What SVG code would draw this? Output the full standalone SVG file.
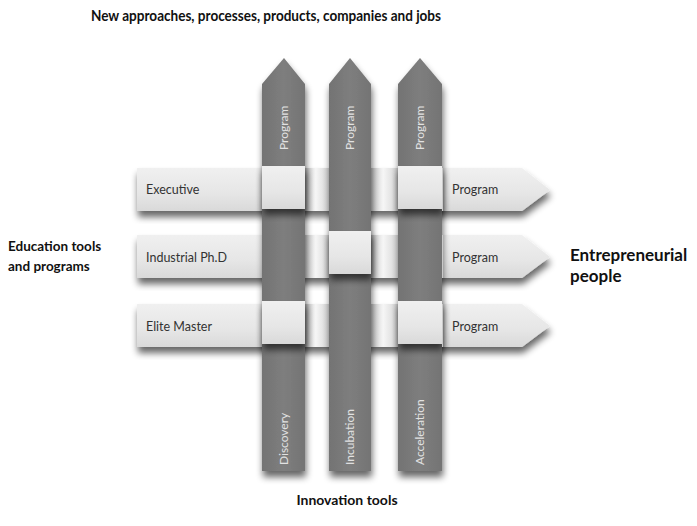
<svg xmlns="http://www.w3.org/2000/svg" width="697" height="526" viewBox="0 0 697 526">
<style>
.lbl{font-family:Lato,"Liberation Sans",sans-serif;font-size:12.5px;fill:#333}
.vl{font-family:Lato,"Liberation Sans",sans-serif;font-size:12px;fill:#e2e2e2}
.hd{font-family:Lato,"Liberation Sans",sans-serif;font-weight:bold;fill:#111}
.hbar{fill:url(#hg)}
.vbar{fill:url(#vg)}
.gap{fill:url(#cg)}
.sq{fill:url(#hg)}
</style>
<defs>
<linearGradient id="hg" x1="0" y1="0" x2="0" y2="1">
<stop offset="0" stop-color="#f0f0f0"/><stop offset="0.6" stop-color="#e6e6e6"/><stop offset="1" stop-color="#d9d9d9"/>
</linearGradient>
<linearGradient id="vg" x1="0" y1="0" x2="1" y2="0">
<stop offset="0" stop-color="#737373"/><stop offset="0.5" stop-color="#7e7e7e"/><stop offset="1" stop-color="#747474"/>
</linearGradient>
<linearGradient id="cg" x1="0" y1="0" x2="1" y2="0">
<stop offset="0" stop-color="#c4c4c4"/><stop offset="0.45" stop-color="#f6f6f6"/><stop offset="1" stop-color="#d4d4d4"/>
</linearGradient>
<filter id="sh" x="-20%" y="-20%" width="140%" height="150%">
<feGaussianBlur in="SourceAlpha" stdDeviation="3.5"/>
<feOffset dx="1" dy="6" result="b"/>
<feComponentTransfer><feFuncA type="linear" slope="0.6"/></feComponentTransfer>
<feMerge><feMergeNode/><feMergeNode in="SourceGraphic"/></feMerge>
</filter>
</defs>
<rect width="697" height="526" fill="#fff"/>

<!-- horizontal bars (education tools) -->
<g id="row-executive" filter="url(#sh)">
<polygon class="hbar" points="137,168 522,168 550,190 522,211 137,211"/>
</g>
<g id="row-industrial" filter="url(#sh)">
<polygon class="hbar" points="137,235 522,235 550,257 522,278 137,278"/>
</g>
<g id="row-elite" filter="url(#sh)">
<polygon class="hbar" points="137,304 522,304 550,326 522,347 137,347"/>
</g>
<g id="gaps">
<rect class="gap" x="305" y="168" width="24" height="43"/>
<rect class="gap" x="371" y="168" width="27" height="43"/>
<rect class="gap" x="305" y="235" width="24" height="43"/>
<rect class="gap" x="371" y="235" width="27" height="43"/>
<rect class="gap" x="305" y="304" width="24" height="43"/>
<rect class="gap" x="371" y="304" width="27" height="43"/>
</g>

<!-- vertical bars (innovation tools) -->
<g id="col-discovery" filter="url(#sh)">
<polygon class="vbar" points="262,84 284,58 305,84 305,471 262,471"/>
</g>
<g id="col-incubation" filter="url(#sh)">
<polygon class="vbar" points="329,84 350,58 371,84 371,471 329,471"/>
</g>
<g id="col-acceleration" filter="url(#sh)">
<polygon class="vbar" points="398,84 420,58 442,84 442,471 398,471"/>
</g>

<!-- over-crossings -->
<g id="crossings" filter="url(#sh)">
<rect class="sq" x="262" y="166" width="43" height="43"/>
<rect class="sq" x="398" y="166" width="44" height="43"/>
<rect class="sq" x="329" y="231" width="42" height="43"/>
<rect class="sq" x="262" y="301" width="43" height="43"/>
<rect class="sq" x="398" y="301" width="44" height="43"/>
</g>
<g id="edges" stroke="#c9c9c9" stroke-width="1">
<line x1="442.5" y1="168" x2="442.5" y2="211"/>
<line x1="442.5" y1="235" x2="442.5" y2="278"/>
<line x1="442.5" y1="304" x2="442.5" y2="347"/>
</g>

<!-- labels -->
<g id="labels">
<text class="lbl" x="146" y="194">Executive</text>
<text class="lbl" x="146" y="262">Industrial Ph.D</text>
<text class="lbl" x="146" y="331">Elite Master</text>
<text class="lbl" x="452" y="194">Program</text>
<text class="lbl" x="452" y="262">Program</text>
<text class="lbl" x="452" y="331">Program</text>
<text class="vl" transform="translate(288,150) rotate(-90)">Program</text>
<text class="vl" transform="translate(354,150) rotate(-90)">Program</text>
<text class="vl" transform="translate(424,150) rotate(-90)">Program</text>
<text class="vl" transform="translate(288,465) rotate(-90)">Discovery</text>
<text class="vl" transform="translate(354,465) rotate(-90)">Incubation</text>
<text class="vl" transform="translate(424,465) rotate(-90)">Acceleration</text>
</g>

<text class="hd" x="91" y="21" font-size="16" textLength="350" lengthAdjust="spacingAndGlyphs">New approaches, processes, products, companies and jobs</text>
<text class="hd" x="8" y="251" font-size="13.5">Education tools</text>
<text class="hd" x="8" y="271" font-size="13.5">and programs</text>
<text class="hd" x="570" y="261" font-size="17">Entrepreneurial</text>
<text class="hd" x="570" y="282" font-size="17">people</text>
<text class="hd" x="347" y="505" font-size="14" text-anchor="middle">Innovation tools</text>
</svg>
